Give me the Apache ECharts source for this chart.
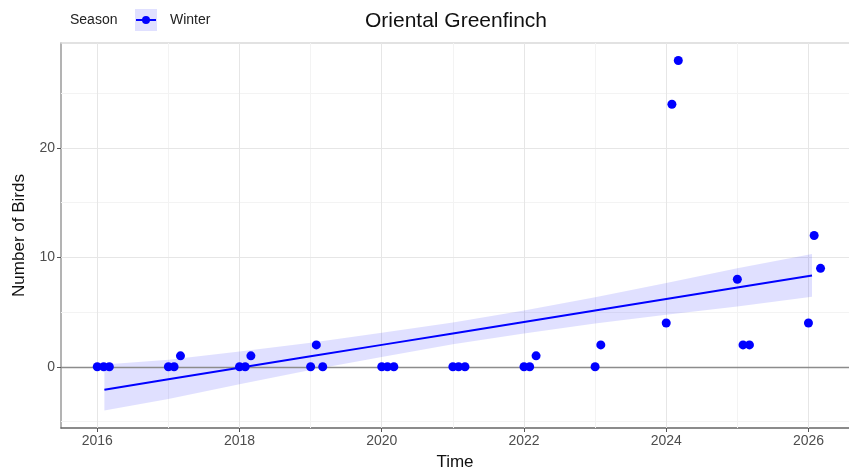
<!DOCTYPE html>
<html>
<head>
<meta charset="utf-8">
<title>Oriental Greenfinch</title>
<script src="https://cdn.jsdelivr.net/npm/echarts@6/dist/echarts.min.js"></script>
<style>
html, body { margin: 0; padding: 0; background: #fff; }
#chart { width: 849px; height: 476px; }
</style>
</head>
<body>
<div id="chart"></div>
<script>
// counts of birds per survey (decimal year)
var pointX = [2016.0, 2016.09, 2016.17, 2017.0, 2017.08, 2017.17, 2018.0, 2018.08, 2018.16,
    2019.0, 2019.08, 2019.17, 2020.0, 2020.08, 2020.17, 2021.0, 2021.08, 2021.17,
    2022.0, 2022.08, 2022.17, 2023.0, 2023.08, 2024.0, 2024.08, 2024.17,
    2025.0, 2025.08, 2025.17, 2026.0, 2026.08, 2026.17];
var pointY = [0, 0, 0, 0, 0, 1, 0, 0, 1,
    0, 2, 0, 0, 0, 0, 0, 0, 0,
    0, 0, 1, 0, 2, 4, 24, 28,
    8, 2, 2, 4, 12, 9];

// linear trend and its confidence band
var fitX = [2016.1, 2017, 2018, 2019, 2020, 2021, 2022, 2023, 2024, 2025, 2026.05];
var fitY = [-2.1, -1.15, -0.1, 0.95, 2.0, 3.05, 4.1, 5.15, 6.2, 7.25, 8.35];
var bandUpper = [0.2, 0.65, 1.4, 2.2, 3.1, 4.05, 5.15, 6.35, 7.65, 9.0, 10.3];
var bandLower = [-4.0, -2.95, -1.6, -0.3, 0.9, 2.05, 3.05, 3.95, 4.75, 5.5, 6.4];

// axes
var xTicks = [2016, 2018, 2020, 2022, 2024, 2026];
var xTickLabels = ['2016', '2018', '2020', '2022', '2024', '2026'];
var xMinor = [2017, 2019, 2021, 2023, 2025];
var yTicks = [0, 10, 20];
var yTickLabels = ['0', '10', '20'];
var yMinor = [-5, 5, 15, 25];

var chart = echarts.init(document.getElementById('chart'));

function gridLines(xs, ys, color) {
    var d = [];
    xs.forEach(function (v) { d.push({ xAxis: v }); });
    ys.forEach(function (v) { d.push({ yAxis: v }); });
    return {
        silent: true,
        symbol: ['none', 'none'],
        label: { show: false },
        z: 1,
        lineStyle: { color: color, width: 1, type: 'solid' },
        emphasis: { disabled: true },
        data: d
    };
}

var scatterData = pointX.map(function (x, i) { return [x, pointY[i]]; });
var fitData = fitX.map(function (x, i) { return [x, fitY[i]]; });
var bandData = fitX.map(function (x, i) { return [x, bandLower[i], bandUpper[i]]; });

chart.setOption({
    animation: false,
    textStyle: { fontFamily: 'Liberation Sans, Arial, sans-serif' },
    // panel runs past the right edge of the picture, so no right border
    grid: { left: 61, top: 43, right: 0, bottom: 48, show: false },
    graphic: [
        { type: 'text', x: 456, y: 21, style: { text: 'Oriental Greenfinch', fill: '#111', textAlign: 'center', verticalAlign: 'middle', font: '21px "Liberation Sans", Arial, sans-serif' } },
        { type: 'text', x: 70, y: 20, style: { text: 'Season', fill: '#222', verticalAlign: 'middle', font: '14px "Liberation Sans", Arial, sans-serif' } },
        { type: 'rect', shape: { x: 135, y: 9, width: 22, height: 22 }, style: { fill: 'rgba(0,0,255,0.12)' } },
        { type: 'line', shape: { x1: 136, y1: 20, x2: 156, y2: 20 }, style: { stroke: '#0000ff', lineWidth: 2 } },
        { type: 'circle', shape: { cx: 146, cy: 20, r: 4 }, style: { fill: '#0000ff' } },
        { type: 'text', x: 170, y: 20, style: { text: 'Winter', fill: '#222', verticalAlign: 'middle', font: '14px "Liberation Sans", Arial, sans-serif' } }
    ],
    xAxis: [{
        type: 'value',
        min: 2015.49,
        max: 2026.57,
        name: 'Time',
        nameLocation: 'middle',
        nameGap: 26,
        nameTextStyle: { fontSize: 17, color: '#111' },
        axisLine: { show: true, onZero: false, lineStyle: { color: '#666', width: 1.5 } },
        axisTick: { show: true, length: 4, customValues: xTicks, lineStyle: { color: '#555' } },
        axisLabel: {
            customValues: xTicks,
            fontSize: 14, color: '#4d4d4d', margin: 6,
            formatter: function (v) {
                var i = xTicks.indexOf(v);
                return i >= 0 ? xTickLabels[i] : '';
            }
        },
        splitLine: { show: false }
    }, {
        // top border of the panel
        type: 'value',
        position: 'top',
        min: 2015.49,
        max: 2026.57,
        axisLine: { show: true, onZero: false, lineStyle: { color: '#d9d9d9', width: 1.5 } },
        axisTick: { show: false },
        axisLabel: { show: false },
        splitLine: { show: false }
    }],
    yAxis: {
        type: 'value',
        min: -5.6,
        max: 29.6,
        name: 'Number of Birds',
        nameLocation: 'middle',
        nameGap: 33,
        nameTextStyle: { fontSize: 17, color: '#111' },
        axisLine: { show: true, onZero: false, lineStyle: { color: '#9a9a9a', width: 1.5 } },
        axisTick: { show: true, length: 4, customValues: yTicks, lineStyle: { color: '#555' } },
        axisLabel: {
            customValues: yTicks,
            fontSize: 14, color: '#4d4d4d', margin: 6,
            formatter: function (v) {
                var i = yTicks.indexOf(v);
                return i >= 0 ? yTickLabels[i] : '';
            }
        },
        splitLine: { show: false }
    },
    series: [
        {
            // minor grid
            type: 'line', data: [], z: 1, silent: true,
            markLine: gridLines(xMinor, yMinor, '#f3f3f3')
        },
        {
            // major grid
            type: 'line', data: [], z: 1, silent: true,
            markLine: gridLines(xTicks, yTicks.filter(function (v) { return v !== 0; }), '#e6e6e6')
        },
        {
            type: 'custom',
            name: 'band',
            z: 2,
            silent: true,
            data: bandData,
            encode: { x: 0, y: [1, 2] },
            renderItem: function (params, api) {
                if (params.dataIndex !== 0) return null;
                var pts = [];
                for (var i = 0; i < bandData.length; i++) {
                    pts.push(api.coord([bandData[i][0], bandData[i][2]]));
                }
                for (var j = bandData.length - 1; j >= 0; j--) {
                    pts.push(api.coord([bandData[j][0], bandData[j][1]]));
                }
                return { type: 'polygon', shape: { points: pts }, style: { fill: 'rgba(0,0,255,0.12)' } };
            }
        },
        {
            // horizontal line at zero
            type: 'line', data: [], z: 3, silent: true,
            markLine: {
                silent: true, symbol: ['none', 'none'], label: { show: false }, z: 3,
                lineStyle: { color: '#8c8c8c', width: 1.3, type: 'solid' },
                data: [{ yAxis: 0 }]
            }
        },
        {
            type: 'line',
            name: 'Winter',
            z: 3,
            data: fitData,
            showSymbol: false,
            lineStyle: { color: '#0000ff', width: 2 }
        },
        {
            type: 'scatter',
            name: 'Winter',
            z: 4,
            data: scatterData,
            symbolSize: 9,
            itemStyle: { color: '#0000ff', opacity: 1 }
        }
    ]
});
</script>
</body>
</html>
